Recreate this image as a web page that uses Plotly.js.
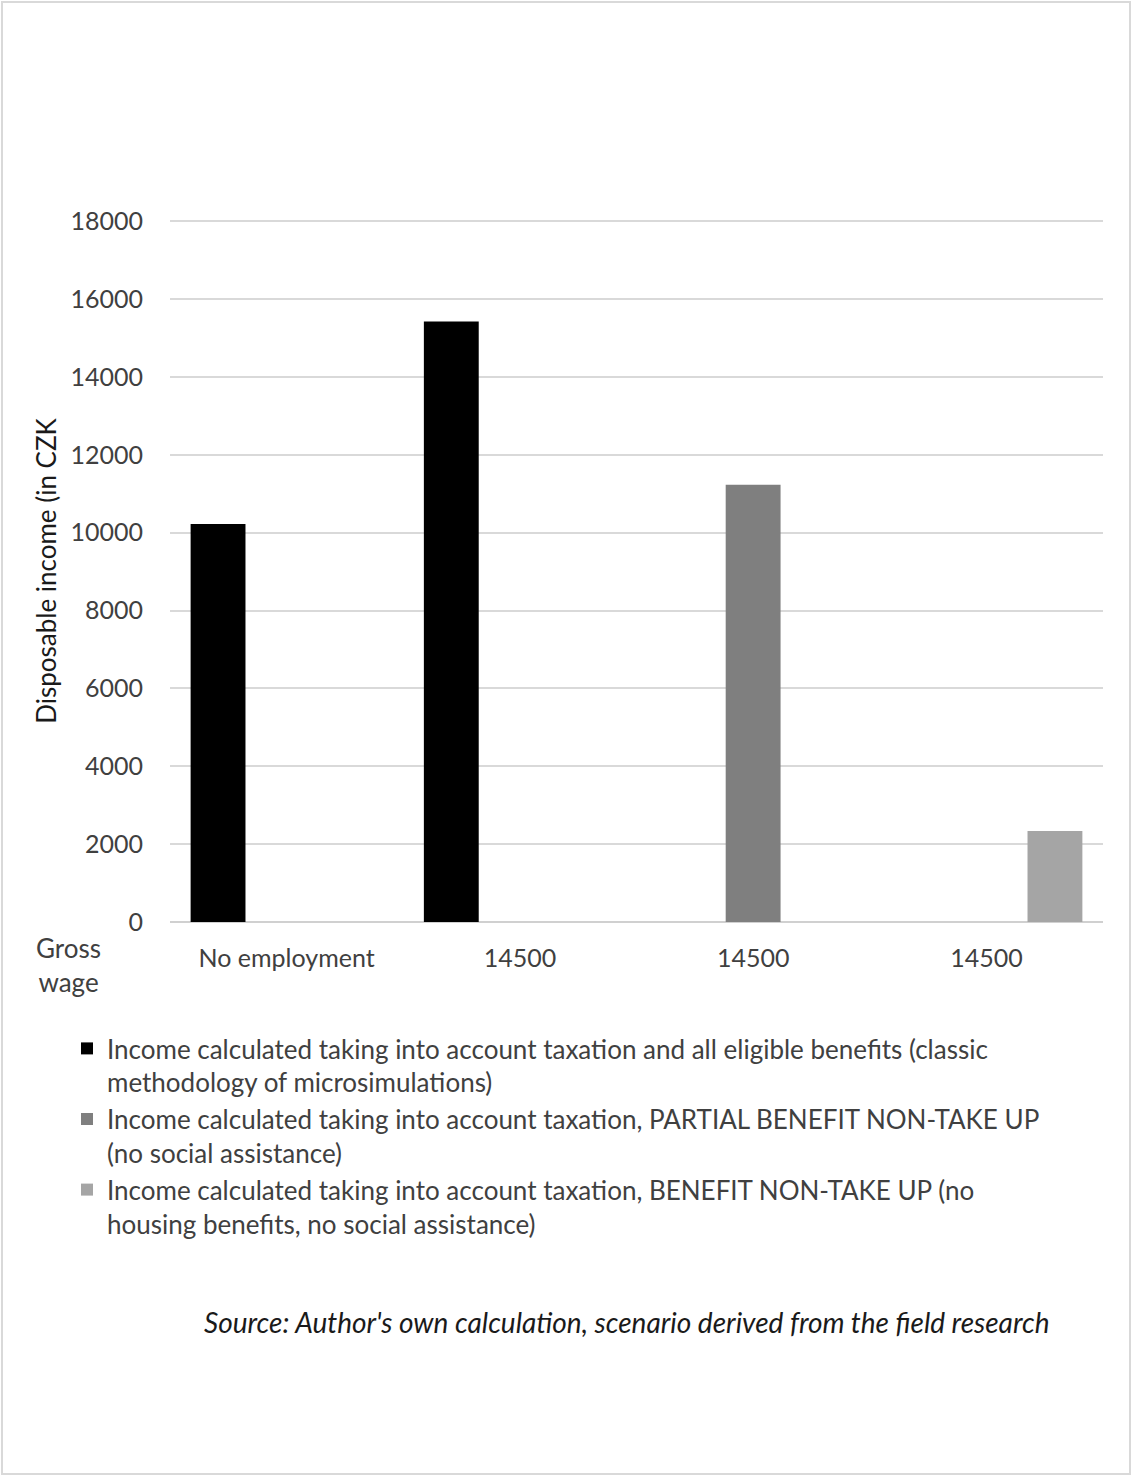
<!DOCTYPE html>
<html>
<head>
<meta charset="utf-8">
<script src="https://cdn.plot.ly/plotly-3.0.1.min.js"></script>
<style>
  html, body { margin: 0; padding: 0; background: #ffffff; }
  #chart { width: 1133px; height: 1477px; }
</style>
</head>
<body>
<div id="chart"></div>
<script>
// Gross wage scenarios shown along the x axis
const wageLabels = ["No employment", "14500", "14500", "14500"];
const scenarioIndex = [0, 1, 2, 3];

// Disposable income (CZK) per income concept; null where the concept is not shown
const fullBenefits = [10220, 15420, null, null];
const partialNonTakeUp = [null, null, 11230, null];
const fullNonTakeUp = [null, null, null, 2340];

const seriesNames = [
  "Income calculated taking into account taxation and all eligible benefits (classic<br>methodology of microsimulations)",
  "Income calculated taking into account taxation, PARTIAL BENEFIT NON-TAKE UP<br>(no social assistance)",
  "Income calculated taking into account taxation, BENEFIT NON-TAKE UP (no<br>housing benefits, no social assistance)"
];
const seriesColors = ["#000000", "#7f7f7f", "#a5a5a5"];

const yTicks = [0, 2000, 4000, 6000, 8000, 10000, 12000, 14000, 16000, 18000];
const yTickText = ["0", "2000", "4000", "6000", "8000", "10000", "12000", "14000", "16000", "18000"];

const FONT = "Lato, 'Open Sans', sans-serif";
const TXT = "#404040";

const traces = [fullBenefits, partialNonTakeUp, fullNonTakeUp].map((vals, i) => ({
  type: "bar",
  x: scenarioIndex,
  y: vals,
  name: seriesNames[i],
  marker: { color: seriesColors[i] },
  hoverinfo: "y"
}));

// plot area in pixels: left 170, right 1103, top 220, bottom 922
const L = 170, R = 1103, T = 220, B = 922;
const pw = R - L, ph = B - T;
const px = v => (v - L) / pw;
const py = v => (B - v) / ph;

const layout = {
  width: 1133,
  height: 1477,
  margin: { l: L, r: 1133 - R, t: T, b: 1477 - B },
  paper_bgcolor: "#ffffff",
  plot_bgcolor: "#ffffff",
  font: { family: FONT, color: TXT, size: 22 },
  barmode: "group",
  bargap: 0.118,
  bargroupgap: 0.2,
  showlegend: true,
  legend: {
    orientation: "v",
    x: px(67), xanchor: "left",
    y: py(1025), yanchor: "top",
    valign: "top",
    font: { family: FONT, size: 26, color: TXT },
    bgcolor: "rgba(0,0,0,0)",
    itemclick: false,
    tracegroupgap: 0
  },
  xaxis: {
    range: [-0.5, 3.5],
    tickmode: "array",
    tickvals: scenarioIndex,
    ticktext: wageLabels,
    showgrid: false,
    zeroline: false,
    showline: false,
    ticks: "",
    ticklabelstandoff: 19,
    tickfont: { family: FONT, size: 25, color: TXT },
    fixedrange: true
  },
  yaxis: {
    range: [0, 18030],
    tickmode: "array",
    tickvals: yTicks,
    ticktext: yTickText,
    showgrid: true,
    gridcolor: "#d9d9d9",
    gridwidth: 2,
    zeroline: true,
    zerolinecolor: "#d0d0d0",
    zerolinewidth: 2,
    showline: false,
    ticks: "",
    ticklabelstandoff: 26,
    tickfont: { family: FONT, size: 25, color: TXT },
    title: {
      text: "Disposable income (in CZK",
      font: { family: FONT, size: 26, color: "#1a1a1a" },
      standoff: 6
    },
    automargin: false,
    fixedrange: true
  },
  annotations: [
    {
      xref: "paper", yref: "paper",
      x: px(68), y: py(965),
      xanchor: "center", yanchor: "middle",
      text: "Gross<br>wage",
      showarrow: false,
      font: { family: FONT, size: 26, color: TXT }
    },
    {
      xref: "paper", yref: "paper",
      x: px(627), y: py(1322),
      xanchor: "center", yanchor: "middle",
      text: "<i>Source: Author's own calculation, scenario derived from the field research</i>",
      showarrow: false,
      font: { family: FONT, size: 28, color: "#1a1a1a" }
    }
  ],
  shapes: [
    {
      type: "rect", xref: "paper", yref: "paper", layer: "below",
      x0: px(2), x1: px(1130), y0: py(2), y1: py(1474),
      line: { color: "#d9d9d9", width: 2 },
      fillcolor: "rgba(0,0,0,0)"
    }
  ]
};

Plotly.newPlot("chart", traces, layout, { displayModeBar: false });
</script>
</body>
</html>
